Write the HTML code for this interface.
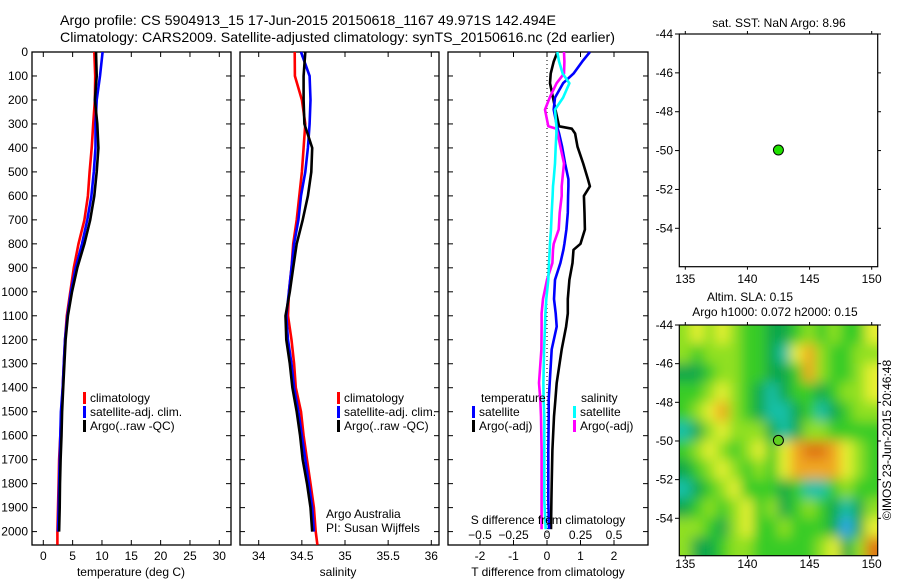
<!DOCTYPE html>
<html><head><meta charset="utf-8"><style>
body{margin:0;background:#fff}
svg{display:block;font-family:"Liberation Sans",sans-serif}
</style></head><body>
<svg id="c" width="900" height="580" viewBox="0 0 900 580" xmlns="http://www.w3.org/2000/svg">
<defs>
<filter id="bl" filterUnits="userSpaceOnUse" x="640" y="290" width="280" height="300"><feGaussianBlur stdDeviation="6"/></filter>
<clipPath id="mapclip"><rect x="679" y="325" width="199" height="231"/></clipPath>
</defs>
<text x="60" y="25" font-size="14" textLength="496" lengthAdjust="spacingAndGlyphs">Argo profile: CS 5904913_15 17-Jun-2015 20150618_1167 49.971S 142.494E</text>
<text x="60" y="42" font-size="14" textLength="555" lengthAdjust="spacingAndGlyphs">Climatology: CARS2009. Satellite-adjusted climatology: synTS_20150616.nc (2d earlier)</text>
<g id="g"></g>
</svg>
<script>
// ---- data ----
const depths = [0,100,200,300,400,500,600,700,800,900,1000,1100,1200,1300,1400,1500,1600,1700,1800,1900,2000];
const tempClim = [8.7,8.85,8.8,8.5,8.25,7.9,7.6,7.0,6.0,5.2,4.6,4.0,3.7,3.5,3.3,3.1,2.9,2.7,2.6,2.5,2.4];
const tempSat  = [10.1,9.67,9.1,8.9,8.9,8.6,8.2,7.5,6.6,5.5,4.7,4.1,3.7,3.5,3.3,3.0,2.9,2.8,2.7,2.6,2.5];
const tempArgo = [8.98,9.1,8.8,9.2,9.4,9.1,8.7,8.0,7.0,5.8,4.9,4.2,3.8,3.6,3.4,3.2,3.1,2.95,2.85,2.8,2.7];
const salClim = [34.417,34.42,34.50,34.54,34.52,34.50,34.47,34.44,34.40,34.38,34.35,34.34,34.38,34.41,34.43,34.49,34.52,34.56,34.60,34.64,34.66];
const salSat  = [34.49,34.59,34.60,34.59,34.57,34.54,34.49,34.46,34.41,34.38,34.35,34.32,34.34,34.38,34.41,34.46,34.50,34.54,34.58,34.62,34.64];
const salArgo = [34.54,34.52,34.52,34.53,34.62,34.61,34.57,34.51,34.44,34.40,34.36,34.31,34.32,34.36,34.39,34.44,34.48,34.51,34.56,34.60,34.62];
const diffDepths = [0,40,90,130,190,240,310,320,340,395,465,530,560,600,670,740,800,825,880,950,1030,1090,1145,1240,1380,1450,1520,1660,1800,1870,1990];
const dTSat  = [1.28,1.05,0.79,0.48,0.24,0.20,0.30,0.32,0.36,0.45,0.54,0.64,0.64,0.63,0.62,0.58,0.52,0.49,0.40,0.24,0.21,0.26,0.29,0.14,0.08,0.05,0.05,0.04,0.04,0.04,0.06];
const dTArgo = [0.31,0.20,0.11,0.09,0.18,0.25,0.36,0.74,0.84,0.91,1.08,1.22,1.28,1.10,1.12,1.13,1.00,0.79,0.76,0.67,0.62,0.62,0.57,0.44,0.29,0.25,0.21,0.16,0.14,0.13,0.12];
const dSSat  = [0.077,0.09,0.117,0.167,0.12,0.06,0.07,0.07,0.07,0.065,0.06,0.05,0.045,0.042,0.035,0.03,0.022,0.02,0.015,0.01,-0.005,-0.012,-0.015,-0.022,-0.027,-0.025,-0.02,-0.02,-0.02,-0.02,-0.01];
const dSArgo = [0.127,0.13,0.127,0.072,0.02,-0.015,0.01,0.07,0.08,0.10,0.127,0.115,0.11,0.11,0.095,0.087,0.05,0.045,0.04,0.0,-0.03,-0.04,-0.04,-0.042,-0.06,-0.05,-0.045,-0.04,-0.04,-0.04,-0.04];
const floatLon = 142.494, floatLat = -49.971;
const slaGrid = [
 [4,5,4,5,4,3,3,2,2,3,4,3,4,3,3,5],
 [4,3,4,4,4,3,3,2,1,5,6,4,3,3,4,4],
 [2,2,3,4,4,3,3,2,2,3,6,4,3,3,4,5],
 [3,3,4,5,4,3,2,1,2,3,3,2,3,4,4,5],
 [3,4,5,6,4,3,2,1,1,2,3,1,2,3,4,4],
 [1,2,4,5,4,4,4,2,1,2,4,4,3,3,3,3],
 [3,4,5,4,3,4,5,3,5,6,7,7,6,5,4,3],
 [2,3,4,5,4,3,4,3,5,6,6,6,6,5,4,3],
 [1,2,3,4,5,3,3,3,2,3,1,1,3,4,3,3],
 [2,3,4,3,4,5,3,4,2,3,4,3,2,1,2,4],
 [4,4,3,2,4,5,3,3,4,3,3,3,2,0,2,5],
 [4,2,2,3,4,4,3,3,3,3,3,4,5,2,4,7]];
const slaColors = ['#30a8f0','#18c0a8','#10a848','#38cc28','#90e020','#e8f030','#f0a820','#e07818'];
const tempTicks=[0,5,10,15,20,25,30], salTicks=[34,34.5,35,35.5,36], depthTicks=[0,100,200,300,400,500,600,700,800,900,1000,1100,1200,1300,1400,1500,1600,1700,1800,1900,2000];
const dTTicks=[-2,-1,0,1,2], dSTicks=[-0.5,-0.25,0,0.25,0.5], lonTicks=[135,140,145,150], latTicks=[-44,-46,-48,-50,-52,-54];

// ---- helpers ----
const NS='http://www.w3.org/2000/svg', G=document.getElementById('g');
function el(t,a,p){const e=document.createElementNS(NS,t);for(const k in a)e.setAttribute(k,a[k]);(p||G).appendChild(e);return e;}
function txt(x,y,s,a,size,anchor){const e=el('text',{x:x,y:y,'font-size':size||12,'text-anchor':anchor||'middle'});e.textContent=s;return e;}
const TOP=52, BOT=545;
const yD=d=>TOP+d*0.2398;
const lin=(d0,d1,r0,r1)=>v=>r0+(v-d0)/(d1-d0)*(r1-r0);
const xT=lin(0,30,43.3,219.3), xS=lin(34,36,258.7,431.3), xdT=lin(0,1,547,580.5), xdS=lin(0,1,547,681);

function frame(x0,x1,name){
  const r=el('rect',{x:x0,y:TOP,width:x1-x0,height:BOT-TOP,fill:'none',stroke:'#000','stroke-width':1.3});
  
  
  for(const d of depthTicks){el('line',{x1:x0,x2:x0+5,y1:yD(d),y2:yD(d),stroke:'#000'});el('line',{x1:x1,x2:x1-5,y1:yD(d),y2:yD(d),stroke:'#000'});}
}
function xticks(ticks,f,name,ly){
  for(const t of ticks){const x=f(t);el('line',{x1:x,x2:x,y1:TOP,y2:TOP+5,stroke:'#000'});el('line',{x1:x,x2:x,y1:BOT,y2:BOT-5,stroke:'#000'});
    const e=txt(x,ly||560,String(t));
    
    }
}
function line(xs,ds,fx,color,name){
  const pts=xs.map((v,i)=>fx(v).toFixed(1)+','+yD(ds[i]).toFixed(1)).join(' ');
  const e=el('polyline',{points:pts,fill:'none',stroke:color,'stroke-width':2.6,'stroke-linejoin':'round'});
  
  
}
function legend(x,y,color,label,name){
  el('rect',{x:x,y:y-6,width:3,height:12,fill:color});
  const e=txt(x+7,y+4,label,0,12,'start');
  
  
}

for(const d of depthTicks){const e=txt(28,yD(d)+4,String(d),0,12,'end');
  
  }

// Panel 1 temperature
frame(32,231,'temperature-panel'); xticks(tempTicks,xT,'temperature-tick-label');
const tD=depths.concat([2055]);
line(tempClim.concat([2.4]),tD,xT,'#f00','temp-climatology-line');
line(tempSat,depths,xT,'#00f','temp-satellite-line');
line(tempArgo,depths,xT,'#000','temp-argo-line');
{const e=txt(131,576,'temperature (deg C)');}
legend(83,398,'#f00','climatology','legend-climatology');
legend(83,412,'#00f','satellite-adj. clim.','legend-satellite');
legend(83,426,'#000','Argo(..raw -QC)','legend-argo');

// Panel 2 salinity
frame(240,439,'salinity-panel'); xticks(salTicks,xS,'salinity-tick-label');
line(salClim.concat([34.68]),tD,xS,'#f00','sal-climatology-line');
line(salSat,depths,xS,'#00f','sal-satellite-line');
line(salArgo,depths,xS,'#000','sal-argo-line');
{const e=txt(338,576,'salinity');}
legend(337,398,'#f00','climatology','legend-climatology-2');
legend(337,412,'#00f','satellite-adj. clim.','legend-satellite-2');
legend(337,426,'#000','Argo(..raw -QC)','legend-argo-2');
{const e=txt(326,518,'Argo Australia',0,12,'start');
 const f=txt(326,532,'PI: Susan Wijffels',0,12,'start');}

// Panel 3 differences
frame(448,648,'difference-panel'); xticks(dTTicks,xdT,'t-diff-tick-label');
for(const t of dSTicks){const e=txt(xdS(t),539,String(t).replace('-','\u2212'));}
el('line',{x1:547,x2:547,y1:TOP,y2:BOT,stroke:'#000','stroke-dasharray':'1,3'});
line(dTArgo,diffDepths,xdT,'#000','t-diff-argo-line');
line(dTSat,diffDepths,xdT,'#00f','t-diff-satellite-line');
line(dSArgo,diffDepths,xdS,'#f0f','s-diff-argo-line');
line(dSSat,diffDepths,xdS,'#0ff','s-diff-satellite-line');
{const e=txt(548,524,'S difference from climatology');
 const f=txt(548,576,'T difference from climatology');
 const a=txt(481,402,'temperature',0,12,'start');
 const b=txt(581,402,'salinity',0,12,'start');}
legend(472,412,'#00f','satellite','legend-t-satellite');
legend(472,426,'#000','Argo(-adj)','legend-t-argo');
legend(573,412,'#0ff','satellite','legend-s-satellite');
legend(573,426,'#f0f','Argo(-adj)','legend-s-argo');

// Maps
const xLon=lin(135,150,685.3,871.7);
function mapAxes(top,bottom,yL,name,ly){
  const r=el('rect',{x:679.3,y:top,width:198.4,height:bottom-top,fill:'none',stroke:'#000','stroke-width':1.2});
  
  
  for(const l of latTicks){const y=yL(l);el('line',{x1:679.3,x2:675,y1:y,y2:y,stroke:'#000'});el('line',{x1:877.7,x2:881,y1:y,y2:y,stroke:'#000'});
    const e=txt(673,y+4,String(l),0,12,'end');}
  for(const l of lonTicks){const x=xLon(l);el('line',{x1:x,x2:x,y1:top,y2:top-3,stroke:'#000'});el('line',{x1:x,x2:x,y1:bottom,y2:bottom+3,stroke:'#000'});
    const e=txt(x,ly,String(l));}
}
const yL1=lin(-44,-54,34,228.3);
mapAxes(34,266.7,yL1,'sst-map',283);
{const e=txt(779,27,'sat. SST: NaN Argo: 8.96');}
{const c=el('circle',{cx:xLon(floatLon),cy:yL1(floatLat),r:5,fill:'#20e000',stroke:'#000','stroke-width':1});}
const yL2=lin(-44,-54,325,518.3);
const hm=el('g',{'clip-path':'url(#mapclip)'});
const hb=el('g',{filter:'url(#bl)'},hm);
slaGrid.forEach((row,i)=>row.forEach((v,j)=>{
  const lon0=134.5+j, lat0=-44-i;
  let x0=xLon(lon0), y0=yL2(lat0), x1=xLon(lon0+1), y1=yL2(lat0-1);
  if(j===0)x0-=20; if(j===row.length-1)x1+=20; if(i===0)y0-=20; if(i===slaGrid.length-1)y1+=20;
  const c=el('rect',{x:x0-0.5,y:y0-0.5,width:(x1-x0)+1,height:(y1-y0)+1,fill:slaColors[v]},hb);
  
  
}));
mapAxes(325,555.7,yL2,'sla-map',568);
{const c=el('circle',{cx:xLon(floatLon),cy:yL2(floatLat),r:5,fill:'#60d020',stroke:'#000','stroke-width':1});}
{const e=txt(750,301,'Altim. SLA: 0.15');
 const f=txt(775,316,'Argo h1000: 0.072 h2000: 0.15');
 const g=txt(0,0,'\u00a9IMOS 23-Jun-2015 20:46:48');g.setAttribute('transform','translate(891,440) rotate(-90)');
 }
</script>
</body></html>
